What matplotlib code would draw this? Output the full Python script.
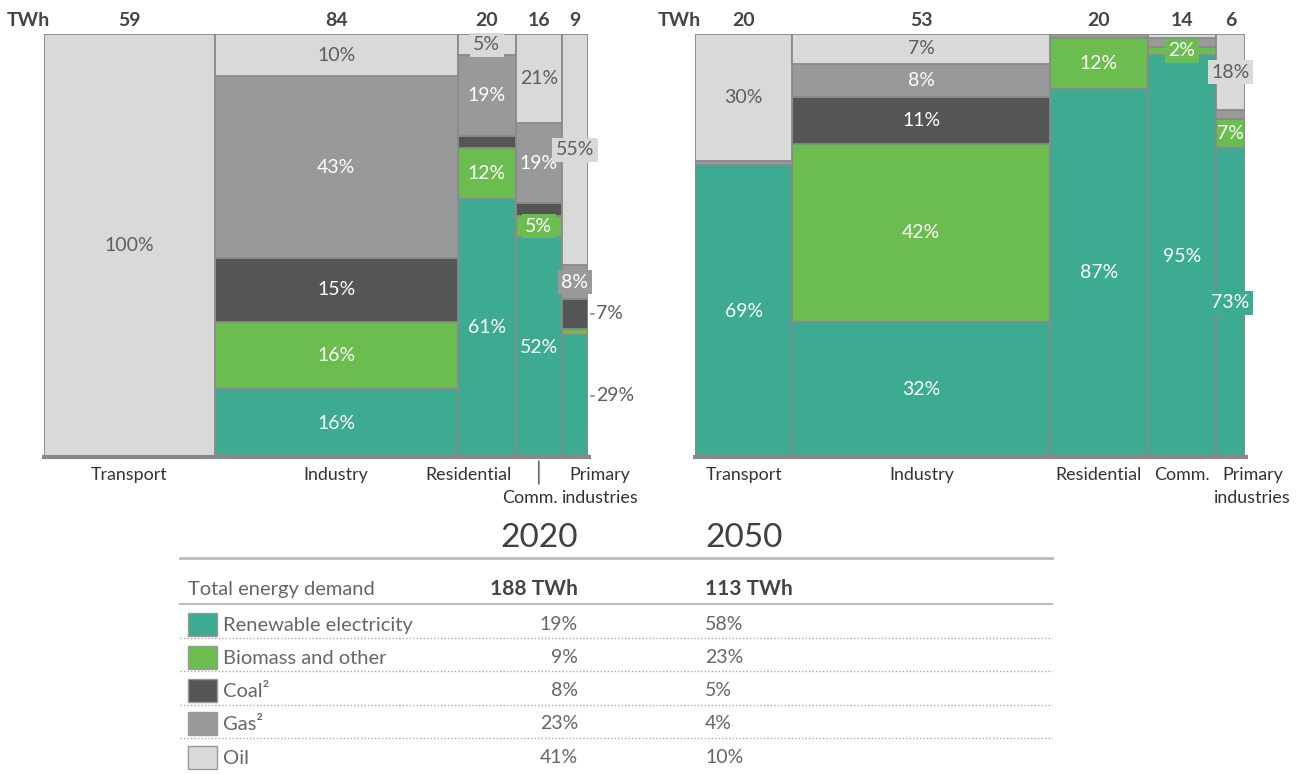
import matplotlib.pyplot as plt
from matplotlib.patches import Rectangle
import numpy as np

plt.rcParams['font.family'] = ['Lato', 'DejaVu Sans']

sectors = ['Transport', 'Industry', 'Residential', 'Comm.', 'Primary\nindustries']
fuels = ['Renewable electricity', 'Biomass and other', 'Coal²', 'Gas²', 'Oil']
fuel_colors = ['#3dab91', '#6abd4e', '#555555', '#999999', '#d9d9d9']

twh_2020 = [59, 84, 20, 16, 9]
twh_2050 = [20, 53, 20, 14, 6]

# share of each sector's demand by fuel (%), stacked bottom to top
renew_2020 = [0, 16, 61, 52, 29]
biomass_2020 = [0, 16, 12, 5, 1.5]
coal_2020 = [0, 15, 3, 3, 7]
gas_2020 = [0, 43, 19, 19, 8]
oil_2020 = [100, 10, 5, 21, 55]

renew_2050 = [69, 32, 87, 95, 73]
biomass_2050 = [0, 42, 12, 2, 7]
coal_2050 = [0, 11, 0, 0, 0]
gas_2050 = [1, 8, 1, 2, 2]
oil_2050 = [30, 7, 0, 1, 18]

years = ['2020', '2050']
total_twh = [188, 113]
mix_2020 = [19, 9, 8, 23, 41]
mix_2050 = [58, 23, 5, 4, 10]

# labels that break the "≥5%" rule or sit outside the column
extra_labels = {('2050', 3, 1)}
outside_labels = {('2020', 4, 2), ('2020', 4, 0)}
cat_shift = {'2020': {2: (-18, 0), 3: (-9, 23), 4: (25, 0)},
             '2050': {4: (22, 0)}}

W, H = 1302, 774
fig = plt.figure(figsize=(W / 100, H / 100), dpi=100)

edge = '#8a8a8a'
dark_txt = '#5e5e5e'


def draw(ax, year, twh, shares, width_px):
    twh = np.array(twh, float)
    shares = np.array(shares, float)
    x0 = np.concatenate([[0], np.cumsum(twh)[:-1]])
    total = twh.sum()
    px_x = width_px / total
    px_y = 423.0
    frac = shares / shares.sum(axis=0)
    bottoms = np.zeros(len(twh))
    for k in range(len(fuels)):
        m = frac[k] > 0
        ax.bar(x0[m], frac[k][m], width=twh[m], bottom=bottoms[m], align='edge',
               color=fuel_colors[k], edgecolor=edge, linewidth=1.3, zorder=2)
        for i in range(len(twh)):
            v = shares[k, i]
            if v <= 0 or not (v >= 5 or (year, i, k) in extra_labels):
                continue
            txt = '%d%%' % round(v)
            yc = bottoms[i] + frac[k, i] / 2
            tcol = dark_txt if k == 4 else 'white'
            if (year, i, k) in outside_labels:
                xr = x0[i] + twh[i]
                ax.annotate('', xy=(xr, yc), xycoords='data',
                            xytext=(6, 0), textcoords='offset pixels',
                            arrowprops=dict(arrowstyle='-', color='#888888', lw=1.2,
                                            shrinkA=0, shrinkB=2), annotation_clip=False)
                ax.annotate(txt, (xr, yc), xytext=(8, 0), textcoords='offset pixels',
                            ha='left', va='center', fontsize=14, color=dark_txt,
                            annotation_clip=False)
                continue
            col_w = twh[i] * px_x
            seg_h = frac[k, i] * px_y
            boxed = seg_h < 24 or len(txt) * 10 + 7 > col_w
            bbox = dict(boxstyle='square,pad=0.18', fc=fuel_colors[k], ec='none') if boxed else None
            ax.text(x0[i] + twh[i] / 2, yc, txt, ha='center', va='center', fontsize=14,
                    color=tcol, bbox=bbox, zorder=5)
        bottoms += frac[k]

    ax.set_xlim(0, total)
    ax.set_ylim(0, 1)
    ax.axis('off')
    ax.plot([-0.004 * total, total * 1.006], [0, 0], color='#888888', lw=3,
            clip_on=False, zorder=4, solid_capstyle='butt')

    # TWh labels above columns
    ax.annotate('TWh', (0, 1), xycoords=('data', 'axes fraction'), xytext=(6, 14),
                textcoords='offset pixels', ha='right', va='center', fontsize=14,
                fontweight='bold', color='#444444', annotation_clip=False)
    for i in range(len(twh)):
        ax.annotate('%d' % twh[i], (x0[i] + twh[i] / 2, 1), xycoords=('data', 'axes fraction'),
                    xytext=(0, 14), textcoords='offset pixels', ha='center', va='center',
                    fontsize=14, fontweight='bold', color='#444444', annotation_clip=False)

    # sector names under the axis
    for i, name in enumerate(sectors):
        dx, dy = cat_shift[year].get(i, (0, 0))
        xc = x0[i] + twh[i] / 2
        ax.annotate(name, (xc, 0), xycoords=('data', 'axes fraction'),
                    xytext=(dx, -10 - dy), textcoords='offset pixels', ha='center', va='top',
                    fontsize=12.9, color='#333333', linespacing=1.55, annotation_clip=False)
        if dy:
            ax.annotate('', xy=(xc, 0), xycoords=('data', 'axes fraction'),
                        xytext=(0, -dy - 4), textcoords='offset pixels',
                        arrowprops=dict(arrowstyle='-', color='#666666', lw=1.2,
                                        shrinkA=0, shrinkB=3), annotation_clip=False)


bot = (H - 457) / H
ax1 = fig.add_axes([44 / W, bot, 544 / W, 423 / H])
draw(ax1, '2020', twh_2020, [renew_2020, biomass_2020, coal_2020, gas_2020, oil_2020], 544)
ax2 = fig.add_axes([695 / W, bot, 550 / W, 423 / H])
draw(ax2, '2050', twh_2050, [renew_2050, biomass_2050, coal_2050, gas_2050, oil_2050], 550)

# summary table, laid out in pixel coordinates
tab = fig.add_axes([0, 0, 1, 1], zorder=-1)
tab.set_xlim(0, W)
tab.set_ylim(H, 0)
tab.axis('off')

x_l, x_r = 180, 1052
c2020, c2050 = 578, 705
tab.text(c2020, 538, years[0], ha='right', va='center', fontsize=24, color='#404040')
tab.text(c2050, 538, years[1], ha='left', va='center', fontsize=24, color='#404040')
tab.plot([x_l, x_r], [558, 558], color='#bbbbbb', lw=2)
tab.text(188, 589, 'Total energy demand', ha='left', va='center', fontsize=14.5, color='#666666')
tab.text(c2020, 589, '%d TWh' % total_twh[0], ha='right', va='center', fontsize=15,
         fontweight='bold', color='#444444')
tab.text(c2050, 589, '%d TWh' % total_twh[1], ha='left', va='center', fontsize=15,
         fontweight='bold', color='#444444')
tab.plot([x_l, x_r], [604, 604], color='#bbbbbb', lw=1.5)

row0, step = 624, 33.3
for k, name in enumerate(fuels):
    yc = row0 + k * step
    tab.add_patch(Rectangle((188, yc - 11.5), 29, 23, fc=fuel_colors[k], ec='#999999', lw=1))
    tab.text(223, yc + 1, name, ha='left', va='center', fontsize=14.5, color='#666666')
    tab.text(c2020, yc, '%d%%' % mix_2020[k], ha='right', va='center', fontsize=14, color='#666666')
    tab.text(c2050, yc, '%d%%' % mix_2050[k], ha='left', va='center', fontsize=14, color='#666666')
    if k < len(fuels) - 1:
        tab.plot([x_l, x_r], [yc + 14, yc + 14], color='#aaaaaa', lw=1, ls=(0, (1, 1.5)))

fig.savefig('out.png', dpi=100)
